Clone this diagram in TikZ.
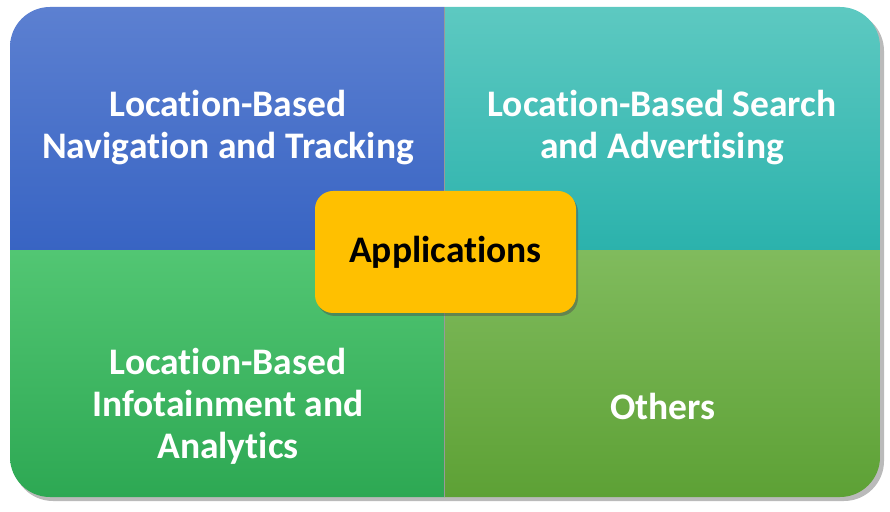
\documentclass[tikz,border=0pt]{standalone}
\usepackage{fontspec}
\setmainfont{Carlito}[Ligatures=NoCommon]
\usetikzlibrary{shadows}
\definecolor{tlTop}{HTML}{5C80D1}
\definecolor{tlBot}{HTML}{3864C3}
\definecolor{trTop}{HTML}{5DC9C1}
\definecolor{trBot}{HTML}{2BB2AC}
\definecolor{blTop}{HTML}{52C673}
\definecolor{blBot}{HTML}{2DA853}
\definecolor{brTop}{HTML}{80BB5D}
\definecolor{brBot}{HTML}{5DA135}
\definecolor{appYellow}{HTML}{FFC000}
\tikzset{
  x=1pt,y=1pt,
  quadtext/.style={text=white,font=\fontsize{37.5}{42}\selectfont\bfseries,align=center},
  appbox/.style={fill=appYellow,rounded corners=18pt,minimum width=261pt,minimum height=122pt,
    drop shadow={shadow xshift=2pt,shadow yshift=-3pt,opacity=0.45,fill=black!70},
    font=\fontsize{37.5}{42}\selectfont\bfseries,text=black},
}
\begin{document}
\begin{tikzpicture}
\useasboundingbox (0,0) rectangle (890,511);
\fill[black!45,rounded corners=40pt,opacity=0.6] (13,10) rectangle (884,500);
\begin{scope}
\clip[rounded corners=40pt] (10,14) rectangle (880,504);
\shade[top color=tlTop,bottom color=tlBot] (10,260) rectangle (444,504);
\shade[top color=trTop,bottom color=trBot] (444,260) rectangle (880,504);
\shade[top color=blTop,bottom color=blBot] (10,14) rectangle (444,260);
\shade[top color=brTop,bottom color=brBot] (444,14) rectangle (880,260);
\draw[black!40,line width=0.8pt] (444,14) -- (444,504);
\end{scope}
\node[quadtext] (tl) at (228,383) {Location-Based\\Navigation and Tracking};
\node[quadtext] (tr) at (662,383) {Location-Based Search\\and Advertising};
\node[quadtext] (bl) at (228,105) {Location-Based\\Infotainment and\\Analytics};
\node[quadtext] (br) at (663,105) {Others};
\node[appbox] (app) at (445.5,259) {Applications};
\end{tikzpicture}
\end{document}
